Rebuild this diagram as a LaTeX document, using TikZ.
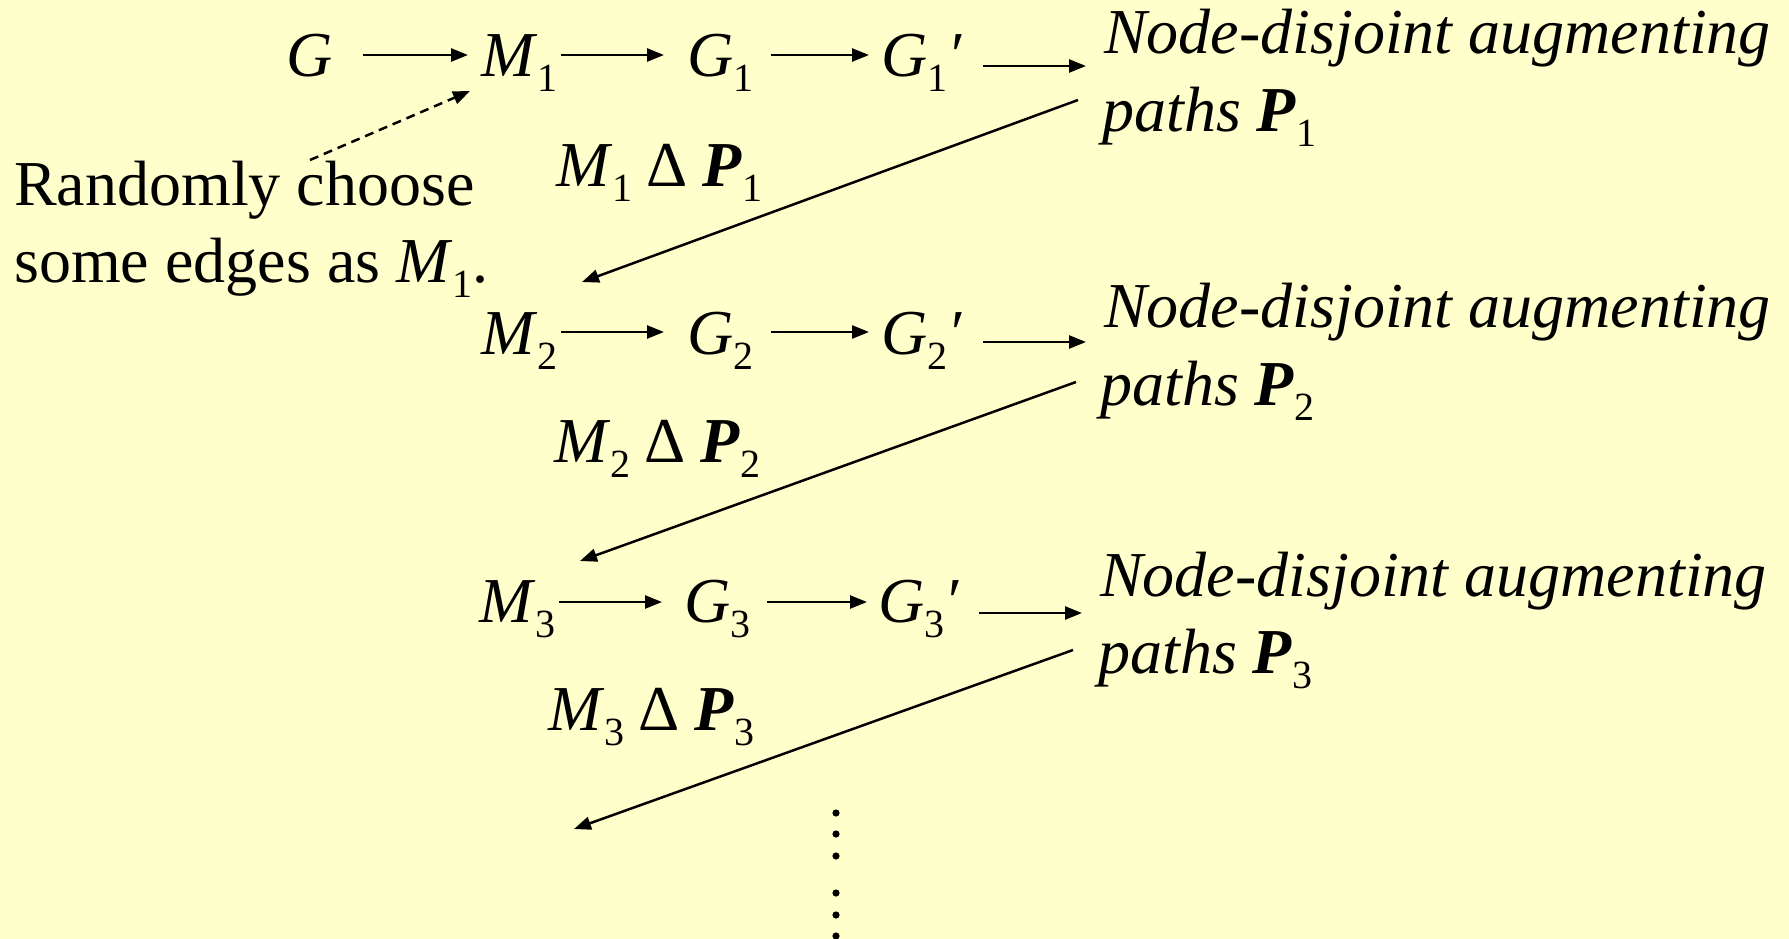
\documentclass[tikz,border=0pt]{standalone}
\usepackage{fontspec}
\setmainfont{Liberation Serif}
\usetikzlibrary{arrows.meta,calc}
\definecolor{bg}{HTML}{FFFFCC}
\newcommand\subs[1]{\raisebox{-15pt}{\fontsize{40}{40}\selectfont #1}}
\newcommand\bP{\textbf{\textit{P}}}
\newcommand\dsp{\hspace{14.5pt}}
\begin{document}
\begin{tikzpicture}[x=1pt,y=-1pt,
  lbl/.style={inner sep=0pt, anchor=base west, font=\fontsize{64}{77}\selectfont},
  arr/.style={line width=2.5pt, -{Triangle[length=17pt,width=13pt]}},
  dsh/.style={line width=2.5pt, dash pattern=on 9pt off 6pt, -{Triangle[length=17pt,width=13pt]}}]
\fill[bg] (0,0) rectangle (1789,939);
\useasboundingbox (0,0) rectangle (1789,939);

% left note
\node[lbl] (rnd1) at (14,205) {Randomly choose};
\node[lbl] (rnd2) at (14,282) {some edges as \textit{M}\subs{1}.};

% row 1
\node[lbl] (G)   at (286,77) {\textit{G}};
\node[lbl] (M1)  at (481,77) {\textit{M}\subs{1}};
\node[lbl] (G1)  at (687,77) {\textit{G}\subs{1}};
\node[lbl] (G1p) at (881,77) {\textit{G}\subs{1}\textit{′}};
\node[lbl] (N1)  at (1104,54) {\textit{Node-disjoint augmenting}};
\node[lbl] (P1)  at (1102,132) {\textit{paths} \bP\subs{1}};
\node[lbl] (D1)  at (556,186) {\textit{M}\subs{1}\dsp Δ\dsp\bP\subs{1}};

% row 2
\node[lbl] (M2)  at (481,354) {\textit{M}\subs{2}};
\node[lbl] (G2)  at (687,354) {\textit{G}\subs{2}};
\node[lbl] (G2p) at (881,354) {\textit{G}\subs{2}\textit{′}};
\node[lbl] (N2)  at (1104,327) {\textit{Node-disjoint augmenting}};
\node[lbl] (P2)  at (1100,405) {\textit{paths} \bP\subs{2}};
\node[lbl] (D2)  at (554,462) {\textit{M}\subs{2}\dsp Δ\dsp\bP\subs{2}};

% row 3
\node[lbl] (M3)  at (479,622) {\textit{M}\subs{3}};
\node[lbl] (G3)  at (684,622) {\textit{G}\subs{3}};
\node[lbl] (G3p) at (878,622) {\textit{G}\subs{3}\textit{′}};
\node[lbl] (N3)  at (1100,596) {\textit{Node-disjoint augmenting}};
\node[lbl] (P3)  at (1098,673) {\textit{paths} \bP\subs{3}};
\node[lbl] (D3)  at (548,730) {\textit{M}\subs{3}\dsp Δ\dsp\bP\subs{3}};
\coordinate (nxt) at (574,829);

% row 1 arrows
\draw[arr] ($(G.base west)+(77,-22)$) -- ($(M1.base west)+(-13,-22)$);
\draw[arr] ($(M1.base west)+(80,-22)$) -- ($(G1.base west)+(-23,-22)$);
\draw[arr] ($(G1.base west)+(84,-22)$) -- ($(G1p.base west)+(-12,-22)$);
\draw[arr] ($(G1p.base west)+(102,-11)$) -- ($(N1.base west)+(-18,12)$);
\draw[arr] ($(P1.base west)+(-24,-32)$) -- ($(M2.base west)+(101,-72)$);
\draw[dsh] ($(rnd1.base west)+(296,-45)$) -- ($(M1.base west)+(-11,14)$);

% row 2 arrows
\draw[arr] ($(M2.base west)+(80,-22)$) -- ($(G2.base west)+(-23,-22)$);
\draw[arr] ($(G2.base west)+(84,-22)$) -- ($(G2p.base west)+(-12,-22)$);
\draw[arr] ($(G2p.base west)+(102,-12)$) -- ($(N2.base west)+(-18,15)$);
\draw[arr] ($(P2.base west)+(-24,-23)$) -- ($(M3.base west)+(101,-61)$);

% row 3 arrows
\draw[arr] ($(M3.base west)+(80,-20)$) -- ($(G3.base west)+(-22,-20)$);
\draw[arr] ($(G3.base west)+(83,-20)$) -- ($(G3p.base west)+(-11,-20)$);
\draw[arr] ($(G3p.base west)+(101,-9)$) -- ($(N3.base west)+(-18,17)$);
\draw[arr] ($(P3.base west)+(-25,-23)$) -- (nxt);

% vertical dots
\foreach \yy in {813,834,856,893,915,936}
  \fill (836,\yy) circle (3.6);
\end{tikzpicture}
\end{document}
